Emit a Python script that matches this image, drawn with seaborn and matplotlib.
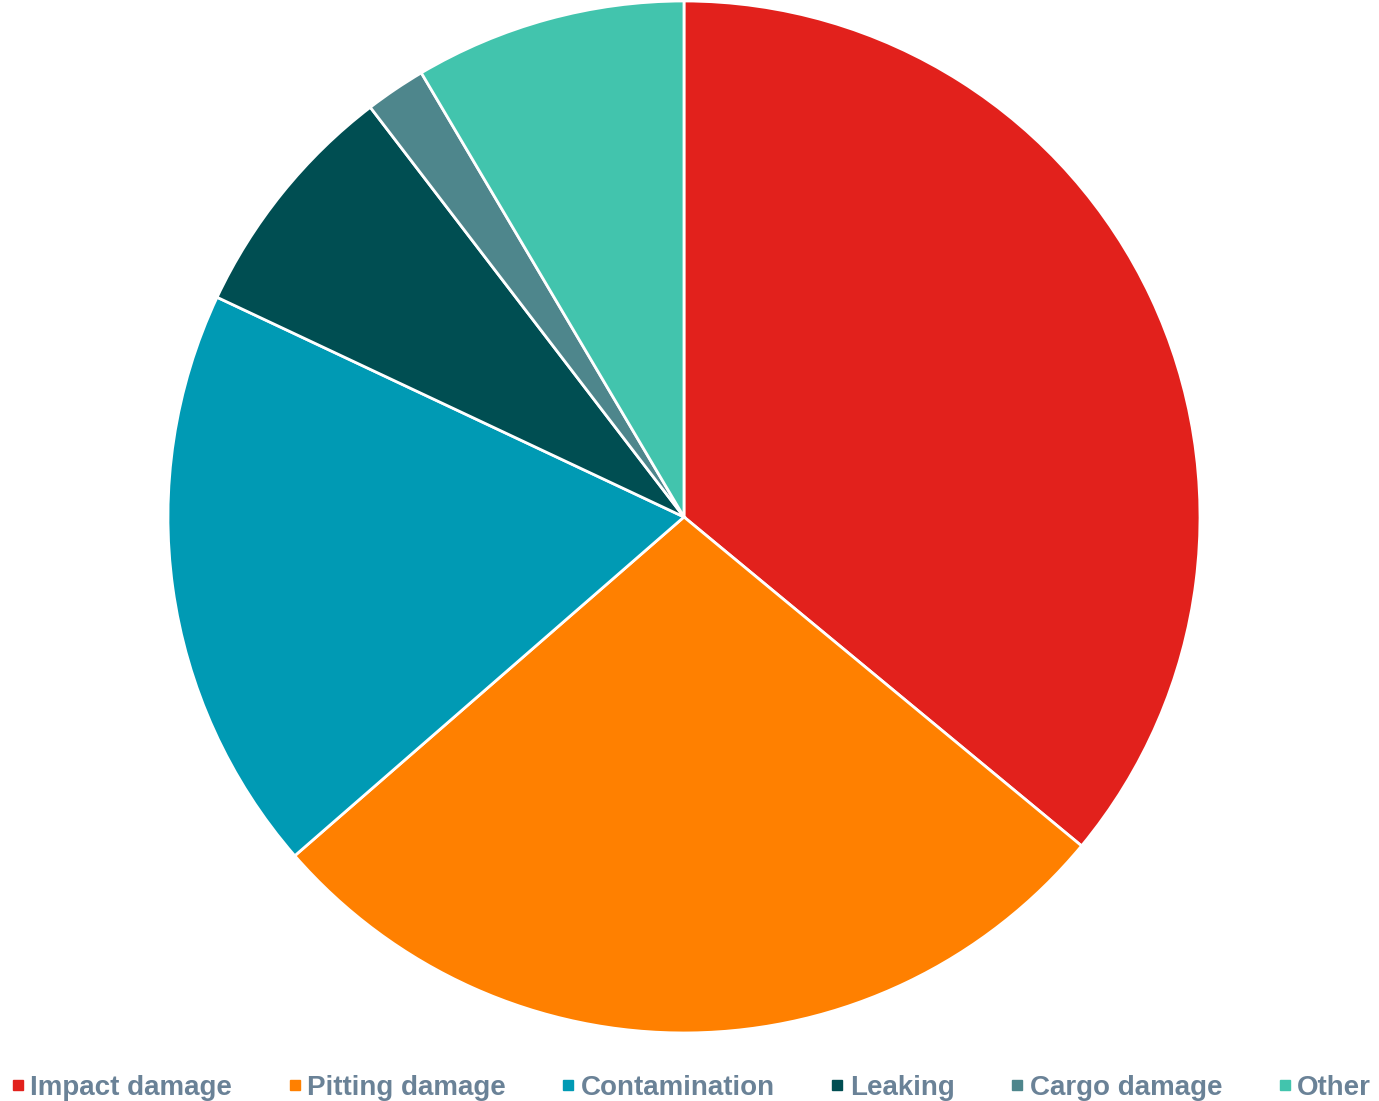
import matplotlib
matplotlib.use("Agg")
import matplotlib.pyplot as plt
from matplotlib.lines import Line2D
import seaborn as sns

categories = ["Impact damage", "Pitting damage", "Contamination", "Leaking", "Cargo damage", "Other"]
shares = [36.0, 27.6, 18.4, 7.6, 1.9, 8.5]
colors = ["#E2211C", "#FF8000", "#009AB4", "#004E52", "#4E868C", "#42C4AD"]

sns.set_theme(style="white")
plt.rcParams['font.family'] = ['Liberation Sans Narrow', 'Liberation Sans', 'DejaVu Sans']

fig = plt.figure(figsize=(13.79, 11.01), dpi=100)
ax = fig.add_axes([0.1218, 0.0618, 0.7484, 0.9373])

ax.pie(shares, colors=colors, startangle=90, counterclock=False,
       wedgeprops=dict(edgecolor="white", linewidth=2))
ax.set_xlim(-1.0, 1.0)
ax.set_ylim(-1.0, 1.0)
ax.set_aspect("auto")
ax.axis("off")

# legend along the bottom
handles = [Line2D([0], [0], marker="s", color="w", markerfacecolor=c,
                  markeredgecolor=c, markersize=7, linestyle="")
           for c in colors]
leg = fig.legend(handles, categories, loc="center", bbox_to_anchor=(0.5, 0.012),
                 ncol=6, frameon=False, handletextpad=0.1, columnspacing=1.9,
                 handlelength=0.7, prop=dict(size=20, weight="bold"))
for t in leg.get_texts():
    t.set_color("#6A8297")

fig.savefig("out.png", dpi=100)
